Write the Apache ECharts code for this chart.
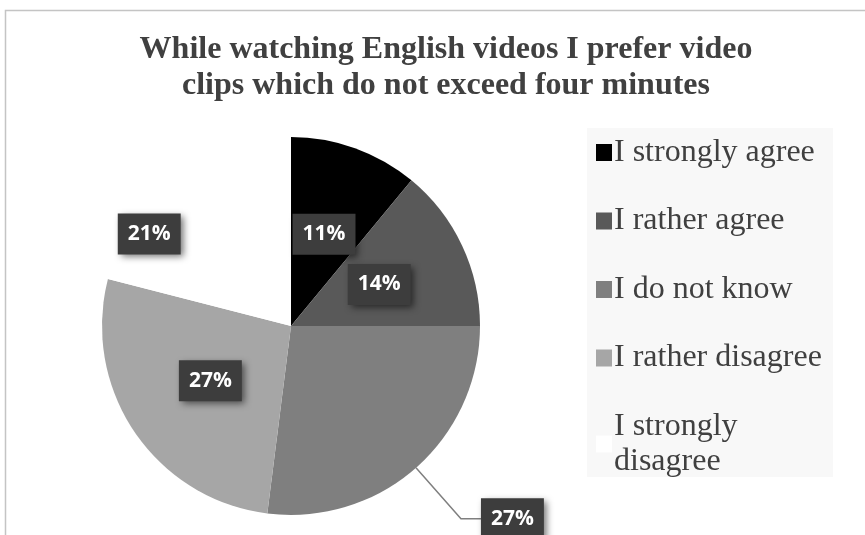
<!DOCTYPE html>
<html>
<head>
<meta charset="utf-8">
<script src="https://cdn.jsdelivr.net/npm/echarts@6/dist/echarts.min.js"></script>
<style>
  html, body { margin: 0; padding: 0; background: #ffffff; }
  #chart { width: 865px; height: 535px; }
</style>
</head>
<body>
<div id="chart"></div>
<script>
// Survey answers and their shares (percent)
const titleLines = ['While watching English videos I prefer video', 'clips which do not exceed four minutes'];
const categories = ['I strongly agree', 'I rather agree', 'I do not know', 'I rather disagree', 'I strongly disagree'];
const shares = [11, 14, 27, 27, 21];
const sliceColors = ['#000000', '#595959', '#7f7f7f', '#a6a6a6', '#ffffff'];

const labelBox = {
  show: true,
  formatter: '{c}%',
  color: '#ffffff',
  fontFamily: 'Open Sans',
  fontWeight: 'bold',
  fontSize: 21,
  lineHeight: 22,
  backgroundColor: '#3d3d3d',
  padding: [10, 10, 9, 10],
  shadowColor: 'rgba(0,0,0,0.55)',
  shadowBlur: 7,
  shadowOffsetX: 3,
  shadowOffsetY: 3
};

const pieData = categories.map((name, i) => {
  const item = { name: name, value: shares[i], itemStyle: { color: sliceColors[i] } };
  if (i === 2) {
    // this slice carries its label outside, on a leader line
    item.label = { position: 'outside', distanceToLabelLine: 0 };
    item.labelLine = { show: true, length: 68, length2: 20, lineStyle: { color: '#7f7f7f', width: 1.5 } };
  }
  if (i === 4) {
    item.label = { offset: [-82, -15] };
  }
  return item;
});

const chart = echarts.init(document.getElementById('chart'), null, { renderer: 'canvas' });
chart.setOption({
  animation: false,
  backgroundColor: '#ffffff',
  title: {
    text: titleLines.join('\n'),
    left: 441,
    top: 27,
    textAlign: 'center',
    textStyle: {
      fontFamily: 'Liberation Serif',
      fontWeight: 'bold',
      fontSize: 32,
      lineHeight: 36,
      color: '#404040'
    }
  },
  graphic: [
    {
      type: 'rect',
      z: -10,
      shape: { x: 5.5, y: 10.5, width: 870, height: 540 },
      style: { fill: '#ffffff', stroke: '#c4c4c4', lineWidth: 1.5 }
    },
    {
      type: 'rect',
      z: -5,
      shape: { x: 587, y: 128, width: 246, height: 349 },
      style: { fill: '#f8f8f8' }
    }
  ],
  legend: {
    orient: 'vertical',
    left: 591,
    top: 130,
    icon: 'rect',
    itemWidth: 16,
    itemHeight: 17,
    itemGap: 33.5,
    selectedMode: false,
    formatter: name => name === 'I strongly disagree' ? 'I strongly\ndisagree' : name,
    textStyle: {
      fontFamily: 'Liberation Serif',
      fontSize: 32,
      lineHeight: 35,
      color: '#404040',
      padding: [0, 0, 0, -3]
    },
    data: categories
  },
  series: [{
    type: 'pie',
    center: [291, 326],
    radius: 189,
    startAngle: 90,
    clockwise: true,
    avoidLabelOverlap: false,
    label: Object.assign({ position: 'inside' }, labelBox),
    labelLine: { show: false },
    itemStyle: { borderWidth: 0 },
    emphasis: { disabled: true },
    data: pieData
  }]
});
</script>
</body>
</html>
